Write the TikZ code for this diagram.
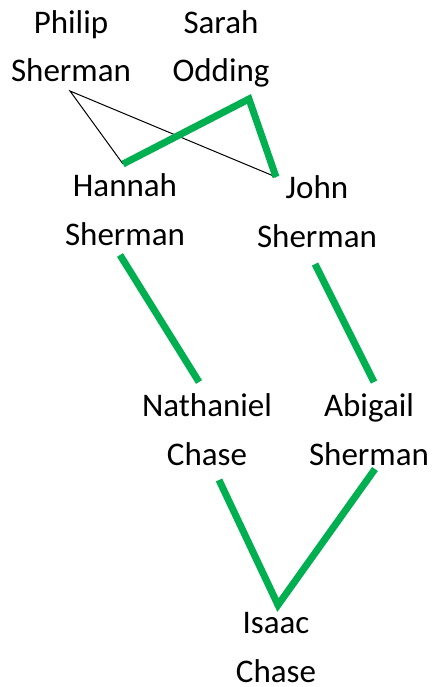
\documentclass[tikz,border=0pt]{standalone}
\usepackage{fontspec}
\setmainfont{Carlito}
\definecolor{offgreen}{HTML}{00B050}
\begin{document}
\begin{tikzpicture}[x=1pt,y=-1pt,
  person/.style={align=center,anchor=base,inner sep=0pt,font=\fontsize{33}{48.5}\selectfont},
  kin/.style={draw=offgreen,line width=7pt},
  thin/.style={draw=black,line width=1pt}]
\useasboundingbox (0,0) rectangle (435,687);
\node[person] (philip) at (71,82) {Philip\\Sherman};
\node[person] (sarah) at (221,82) {Sarah\\Odding};
\node[person] (hannah) at (125,245) {Hannah\\Sherman};
\node[person] (john) at (317,247) {John\\Sherman};
\node[person] (nathaniel) at (207,465) {Nathaniel\\Chase};
\node[person] (abigail) at (369,465) {Abigail\\Sherman};
\node[person] (isaac) at (276,682) {Isaac\\Chase};
% connector end points
\coordinate (philipB) at (70,91);
\coordinate (sarahB) at (249,99);
\coordinate (hannahT) at (123,164);
\coordinate (johnT) at (276,177);
\coordinate (hannahB) at (120,255);
\coordinate (johnB) at (315,264);
\coordinate (nathanielT) at (199,382);
\coordinate (abigailT) at (374,382);
\coordinate (nathanielB) at (219,480);
\coordinate (abigailB) at (375,469);
\coordinate (isaacT) at (278,605);
\draw[thin] (hannahT) -- (philipB) -- (johnT);
\draw[kin] (hannahT) -- (sarahB) -- (johnT);
\draw[kin] (hannahB) -- (nathanielT);
\draw[kin] (johnB) -- (abigailT);
\draw[kin] (nathanielB) -- (isaacT) -- (abigailB);
\end{tikzpicture}
\end{document}
